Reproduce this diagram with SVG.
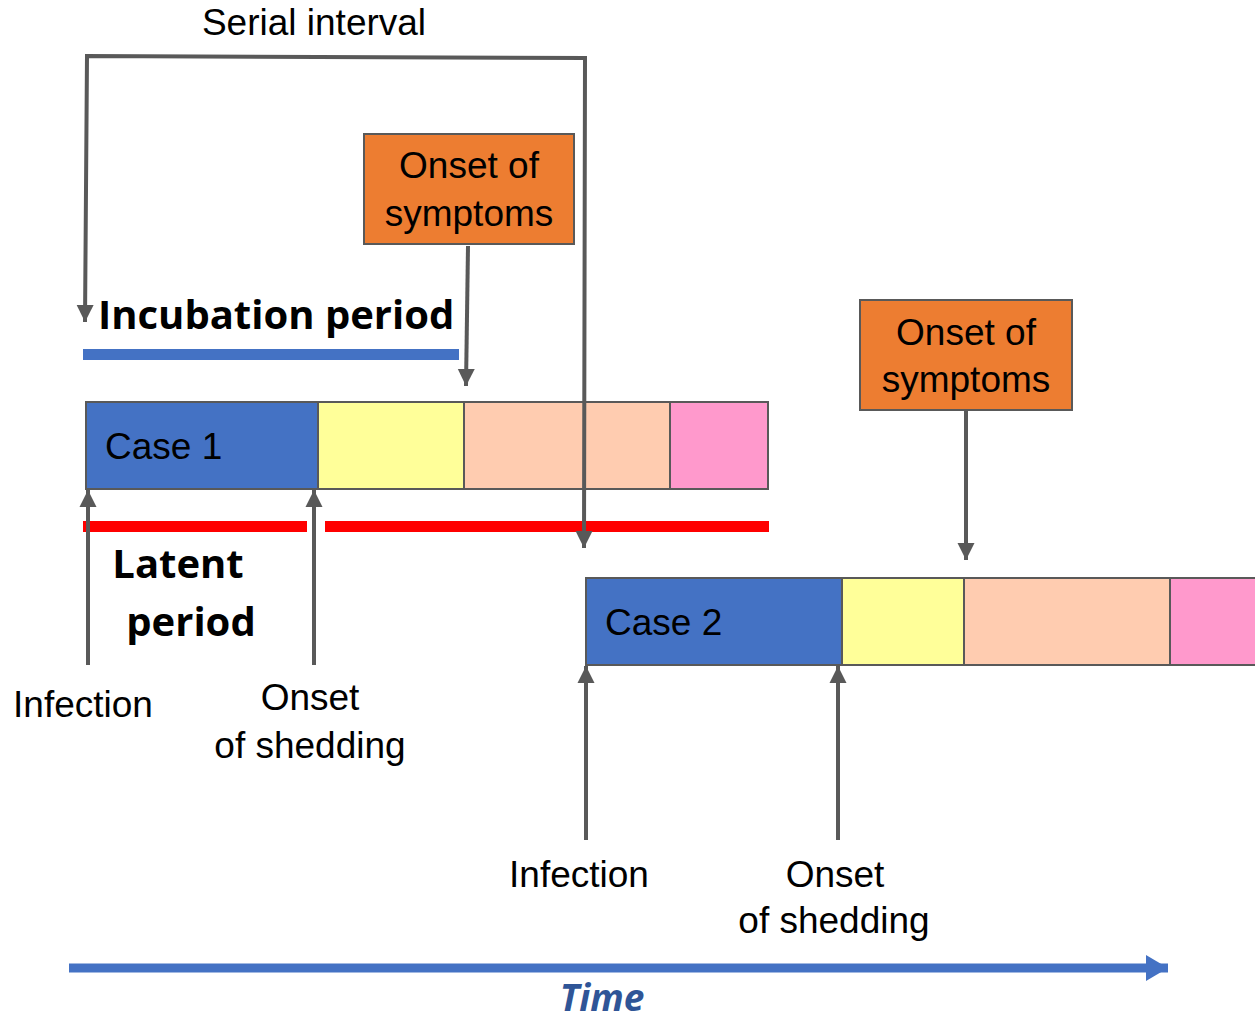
<svg xmlns="http://www.w3.org/2000/svg" width="1255" height="1022" viewBox="0 0 1255 1022">
<defs>
<style>
.t{font-family:"Liberation Sans",Arial,sans-serif;font-size:37px;fill:#000}
.b{font-family:"Open Sans","Noto Sans",sans-serif;font-weight:bold;font-size:40px;fill:#000}
.c{stroke:#595959;stroke-width:4;fill:none}
.seg{stroke:#595959;stroke-width:2}
</style>
<marker id="ah" markerUnits="userSpaceOnUse" markerWidth="18" markerHeight="18" viewBox="0 0 18 18" refX="17" refY="9" orient="auto">
<path d="M0,0.5 L17,9 L0,17.5 Z" fill="#595959"/>
</marker>
<marker id="as" markerUnits="userSpaceOnUse" markerWidth="18" markerHeight="18" viewBox="0 0 18 18" refX="17" refY="9" orient="auto-start-reverse">
<path d="M0,0.5 L17,9 L0,17.5 Z" fill="#595959"/>
</marker>
<marker id="bh" markerUnits="userSpaceOnUse" markerWidth="24" markerHeight="26" viewBox="0 0 24 26" refX="22" refY="13" orient="auto">
<path d="M0,0 L22,13 L0,26 Z" fill="#4472C4"/>
</marker>
</defs>
<rect width="1255" height="1022" fill="#fff"/>

<g id="case1">
<rect class="seg" x="86" y="402" width="232" height="87" fill="#4472C4"/>
<rect class="seg" x="318" y="402" width="146" height="87" fill="#FFFF99"/>
<rect class="seg" x="464" y="402" width="206" height="87" fill="#FFCCB0"/>
<rect class="seg" x="670" y="402" width="98" height="87" fill="#FF99CC"/>
<text class="t" x="105" y="459">Case 1</text>
</g>

<g id="case2">
<rect class="seg" x="586" y="578" width="256" height="87" fill="#4472C4"/>
<rect class="seg" x="842" y="578" width="122" height="87" fill="#FFFF99"/>
<rect class="seg" x="964" y="578" width="206" height="87" fill="#FFCCB0"/>
<rect class="seg" x="1170" y="578" width="90" height="87" fill="#FF99CC"/>
<text class="t" x="605" y="635">Case 2</text>
</g>

<g id="onset-symptoms-1">
<rect x="364" y="134" width="210" height="110" fill="#ED7D31" stroke="#595959" stroke-width="2"/>
<text class="t" x="469" y="178" text-anchor="middle">Onset of</text>
<text class="t" x="469" y="226" text-anchor="middle">symptoms</text>
</g>

<g id="onset-symptoms-2">
<rect x="860" y="300" width="212" height="110" fill="#ED7D31" stroke="#595959" stroke-width="2"/>
<text class="t" x="966" y="345" text-anchor="middle">Onset of</text>
<text class="t" x="966" y="392" text-anchor="middle">symptoms</text>
</g>

<g id="incubation">
<rect x="83" y="349" width="376" height="11" fill="#4472C4"/>
<text class="b" x="98" y="329">Incubation period</text>
</g>

<g id="latent">
<rect x="83" y="521" width="224" height="11" fill="#FF0000"/>
<rect x="325" y="521" width="444" height="11" fill="#FF0000"/>
<text class="b" x="178" y="578" text-anchor="middle">Latent</text>
<text class="b" x="191" y="636" text-anchor="middle">period</text>
</g>

<g id="labels">
<text class="t" x="314" y="35" text-anchor="middle">Serial interval</text>
<text class="t" x="83" y="717" text-anchor="middle">Infection</text>
<text class="t" x="310" y="710" text-anchor="middle">Onset</text>
<text class="t" x="310" y="758" text-anchor="middle">of shedding</text>
<text class="t" x="579" y="887" text-anchor="middle">Infection</text>
<text class="t" x="835" y="887" text-anchor="middle">Onset</text>
<text class="t" x="834" y="933" text-anchor="middle">of shedding</text>
</g>

<g id="time">
<line x1="69" y1="968" x2="1168" y2="968" stroke="#4472C4" stroke-width="9" marker-end="url(#bh)"/>
<text x="602" y="1011" text-anchor="middle" font-family="'Open Sans','Noto Sans',sans-serif" font-weight="bold" font-style="italic" font-size="37" fill="#2F5597">Time</text>
</g>

<g id="connectors">
<path class="c" d="M85,322 L87,56 L585,58 L584,548" marker-start="url(#as)" marker-end="url(#ah)"/>
<path class="c" d="M468,246 L466,386" marker-end="url(#ah)"/>
<path class="c" d="M966,410 L966,560" marker-end="url(#ah)"/>
<path class="c" d="M88,665 L88,490" marker-end="url(#ah)"/>
<path class="c" d="M314,665 L314,490" marker-end="url(#ah)"/>
<path class="c" d="M586,840 L586,666" marker-end="url(#ah)"/>
<path class="c" d="M838,840 L838,666" marker-end="url(#ah)"/>
</g>
</svg>
